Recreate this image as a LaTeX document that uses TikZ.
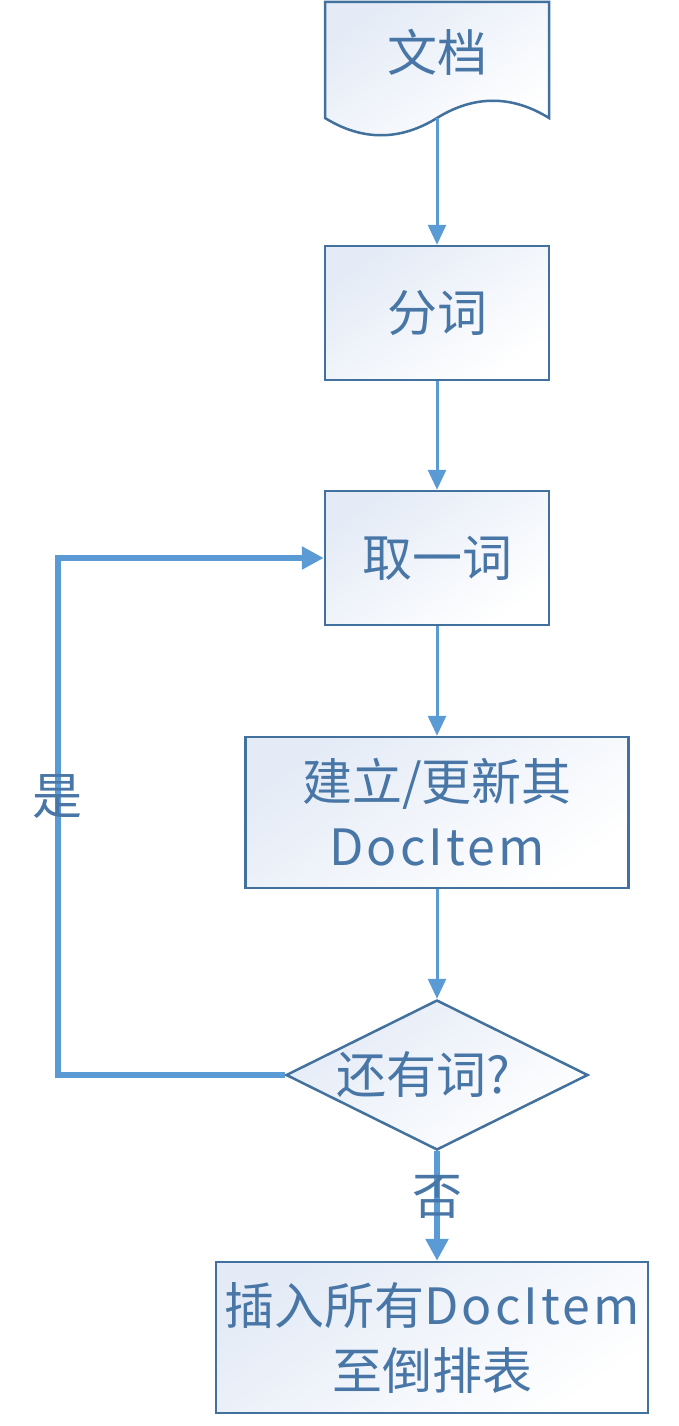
\documentclass[tikz,border=0pt]{standalone}
\usepackage{fontspec}
\setmainfont{Noto Sans CJK SC}
\newfontfamily\docitem[LetterSpace=6]{Noto Sans CJK SC}
\usetikzlibrary{arrows.meta,shapes.geometric}
\definecolor{flowline}{RGB}{91,155,213}
\definecolor{flowedge}{RGB}{65,113,156}
\definecolor{flowtext}{RGB}{72,118,166}
\definecolor{flowfill}{RGB}{228,235,246}
\tikzset{
  flowlabel/.style={text=flowtext, font=\fontsize{50}{65}\selectfont, align=center, inner sep=0pt},
  procbox/.style={flowlabel, draw=flowedge, line width=2.5pt, top color=flowfill, bottom color=white, shading angle=35},
  condbox/.style={diamond, aspect=2, inner sep=0pt, draw=flowedge, line width=2.5pt, top color=flowfill, bottom color=white, shading angle=35},
  docshape/.style={draw=flowedge, line width=2.5pt, top color=flowfill, bottom color=white, shading angle=35},
  flowarrow/.style={draw=flowline, line width=3pt, -{Triangle[length=20pt,width=18pt]}},
  loopline/.style={draw=flowline, line width=5.5pt, -{Triangle[length=22pt,width=22pt]}}
}
\begin{document}
\begin{tikzpicture}[x=1pt,y=-1pt]
\useasboundingbox (0,0) rectangle (678,1426);
% 文档
\shade[docshape] (325,2) -- (549,2) -- (549,118) .. controls (512,95) and (474,95) .. (437,118)
  .. controls (400,141) and (362,141) .. (325,118) -- cycle;
\node[flowlabel] (wendang) at (437,52) {文档};
\coordinate (docbot) at (437,118);
% boxes
\node[procbox, minimum width=224pt, minimum height=134pt] (fenci) at (437,313) {分词};
\node[procbox, minimum width=224pt, minimum height=134pt] (quyici) at (437,558) {取一词};
\node[procbox, minimum width=383pt, minimum height=151pt] (gengxin) at (437,812.5) {建立/更新其\\{\docitem DocItem}};
\node[condbox, minimum width=302pt, minimum height=150pt] (youci) at (437,1075) {};
\node[flowlabel] (youcitext) at (423,1075) {还有词?};
\node[procbox, minimum width=432pt, minimum height=151pt] (charu) at (432,1337.5) {插入所有{\docitem DocItem}\\至倒排表};
% connectors
\draw[flowarrow] (docbot) -- (fenci.north);
\draw[flowarrow] (fenci.south) -- (quyici.north);
\draw[flowarrow] (quyici.south) -- (gengxin.north);
\draw[flowarrow] (gengxin.south) -- (youci.north);
\coordinate (loopcorner) at (58,1075);
\draw[loopline] (youci.west) -- (loopcorner) |- (quyici.west);
\draw[loopline] (youci.south) -- (youci.south |- charu.north);
\node[flowlabel] (shi) at (57,797) {是};
\node[flowlabel] (fou) at (437,1197) {否};
\end{tikzpicture}
\end{document}
